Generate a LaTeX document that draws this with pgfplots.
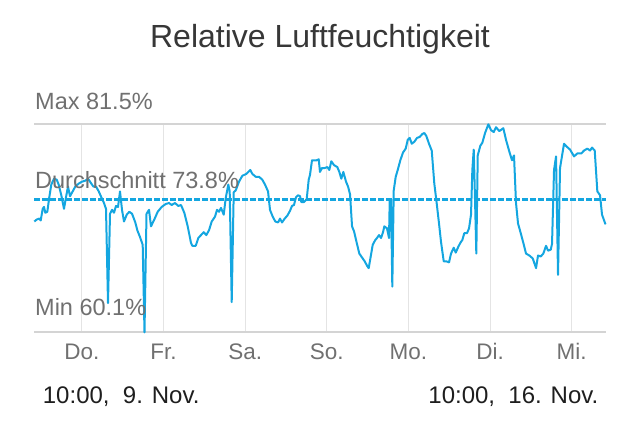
\documentclass[border=0pt]{standalone}
\usepackage{pgfplots}
\pgfplotsset{compat=1.18}
\usepackage{fontspec}
\setmainfont{Liberation Sans}
\definecolor{lineblue}{RGB}{20,166,224}
\definecolor{labelgray}{RGB}{112,112,112}
\definecolor{titlegray}{RGB}{55,55,55}
\definecolor{gridgray}{RGB}{228,228,228}
\definecolor{bordergray}{RGB}{212,212,212}
\definecolor{datecol}{RGB}{30,30,30}
\begin{document}
\begin{tikzpicture}
\useasboundingbox (0pt,0pt) rectangle (640pt,423pt);
\node[anchor=base, text=titlegray, inner sep=0pt] at (320pt,375.3pt) {\fontsize{32}{38}\selectfont Relative Luftfeuchtigkeit};
\begin{axis}[
  at={(34.3pt,90.7pt)}, anchor=south west,
  scale only axis, width=571.4pt, height=208pt,
  xmin=0, xmax=168, ymin=60.1, ymax=81.5,
  clip=false,
  axis line style={draw=none},
  major tick length=0pt,
  xtick={14,38,62,86,110,134,158},
  xticklabels={Do.,Fr.,Sa.,So.,Mo.,Di.,Mi.},
  xticklabel style={anchor=base, yshift=-27.7pt, text=labelgray, font=\fontsize{22.5}{27}\selectfont},
  ytick={60.1,81.5}, yticklabels={},
  xmajorgrids, ymajorgrids,
  x grid style={gridgray, line width=1pt},
  y grid style={bordergray, line width=1.6pt},
]
\addplot[lineblue, line width=2.8pt, dash pattern=on 5.3pt off 2.7pt] coordinates {(0,73.8) (168,73.8)};
\addplot[lineblue, line width=2pt, line join=round] table {
h v
0.00 71.5
0.71 71.7
1.47 71.8
1.88 71.6
2.47 72.8
2.85 73.0
3.23 72.4
3.82 72.5
4.41 74.0
5.00 75.3
5.79 75.9
6.59 75.8
7.17 75.3
7.94 74.2
8.73 72.8
9.32 74.0
9.91 75.1
10.50 74.1
11.29 74.6
12.06 75.1
13.06 75.4
14.03 75.6
15.00 75.7
15.79 75.9
16.38 75.6
17.35 75.1
18.14 75.1
18.94 74.6
19.70 74.0
20.49 73.4
21.08 72.8
21.67 63.1
22.26 72.3
22.85 72.7
23.43 72.4
24.02 73.1
24.61 73.0
25.20 74.6
25.79 72.7
26.37 71.5
27.17 72.2
27.93 72.5
28.73 72.3
29.70 71.4
30.29 70.6
31.08 69.9
31.87 69.1
32.40 60.1
32.99 72.3
33.73 72.7
34.31 71.0
35.28 71.7
36.28 72.5
37.46 73.0
38.64 73.3
39.61 73.4
40.40 73.2
41.37 73.4
42.34 73.1
43.13 73.2
44.10 72.4
45.10 71.0
46.07 69.3
46.46 69.0
47.46 69.0
48.22 69.8
49.01 70.1
49.81 70.4
50.57 70.1
51.37 70.6
52.16 71.5
53.13 72.0
53.72 72.7
54.31 72.5
54.90 72.9
55.69 72.2
56.28 73.9
57.04 75.3
57.45 74.6
58.04 63.2
58.63 74.5
59.22 74.7
60.19 75.6
61.16 76.2
62.34 76.4
63.51 76.8
64.10 76.4
65.10 76.1
66.07 76.1
67.04 75.8
67.83 75.3
68.72 74.6
69.30 72.7
70.10 72.0
70.86 71.5
71.66 71.4
72.24 71.8
72.83 71.4
73.62 71.8
74.39 72.1
75.18 72.6
75.77 73.1
76.36 73.2
76.94 74.0
77.53 74.2
78.12 74.1
78.51 73.5
79.30 73.5
80.09 73.8
80.68 75.8
81.06 76.3
81.65 77.8
83.03 77.8
83.62 77.9
84.00 76.6
84.59 77.0
85.39 77.0
86.15 77.1
86.74 76.8
87.33 77.7
88.12 77.3
89.09 77.1
89.68 76.6
90.27 75.9
90.86 76.6
91.65 75.6
92.24 75.1
92.83 74.3
93.42 71.0
94.00 70.5
94.80 69.3
95.56 68.2
96.35 67.8
97.15 67.4
97.91 66.9
98.32 66.7
98.91 67.9
99.50 69.1
100.26 69.6
100.76 69.8
101.35 70.1
101.94 69.8
102.53 70.4
102.91 71.0
103.70 70.8
104.29 69.8
104.50 73.8
104.88 73.8
105.26 64.8
105.68 74.7
106.26 76.1
106.85 76.8
107.62 77.8
108.41 78.6
109.20 79.0
109.79 79.9
110.38 80.1
110.97 79.5
111.73 79.7
112.53 80.1
113.32 80.2
114.08 80.5
114.67 80.6
115.26 80.3
116.05 79.5
116.85 78.8
117.61 75.4
118.20 73.7
118.99 71.3
119.58 69.4
120.38 67.4
121.14 67.4
121.94 67.3
122.52 68.2
123.32 68.8
123.91 68.3
124.67 68.9
125.26 69.3
125.85 69.6
126.43 70.3
127.23 70.3
127.82 70.8
128.40 72.2
128.79 76.8
129.20 78.9
129.58 73.7
129.96 68.2
130.38 78.3
131.14 79.3
131.73 79.6
132.53 80.6
133.49 81.5
134.28 80.9
135.08 80.7
135.75 81.2
136.72 80.8
137.90 81.1
138.69 79.9
139.66 78.7
140.45 77.8
141.04 78.3
141.63 73.4
142.22 71.3
143.02 70.3
143.78 69.3
144.58 68.2
145.55 68.0
146.55 67.7
147.52 66.7
148.10 68.0
148.90 67.9
149.66 68.2
150.46 69.0
151.04 68.5
151.84 68.6
152.22 69.2
152.81 76.8
153.40 78.2
153.98 66.0
154.57 77.0
155.75 79.5
156.54 79.2
157.51 78.9
158.69 78.2
159.66 78.5
160.83 78.5
161.63 78.8
162.60 79.0
163.39 78.8
163.98 79.1
164.77 78.8
165.54 74.6
166.33 74.2
166.92 72.2
167.95 71.2
};
\end{axis}
\node[anchor=base west, text=labelgray, inner sep=0pt] at (35pt,313.7pt) {\fontsize{23.5}{28}\selectfont Max 81.5\%};
\node[anchor=base west, text=labelgray, inner sep=0pt] at (35pt,234.7pt) {\fontsize{23.5}{28}\selectfont Durchschnitt 73.8\%};
\node[anchor=base west, text=labelgray, inner sep=0pt] at (35pt,107pt) {\fontsize{23.5}{28}\selectfont Min 60.1\%};
\node[anchor=base west, text=datecol, inner sep=0pt] at (42.7pt,19.7pt) {\fontsize{24}{29}\selectfont 10:00,\ \ 9. Nov.};
\node[anchor=base east, text=datecol, inner sep=0pt] at (598.5pt,19.7pt) {\fontsize{24}{29}\selectfont 10:00,\ \ 16. Nov.};
\end{tikzpicture}
\end{document}
